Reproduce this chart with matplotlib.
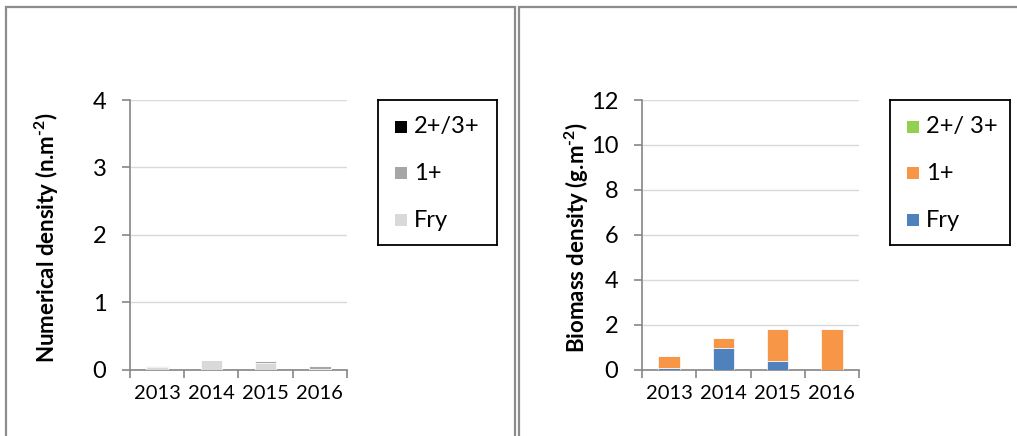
import matplotlib
matplotlib.use("Agg")
import matplotlib.pyplot as plt
from matplotlib.patches import Rectangle
from matplotlib.ticker import FixedLocator, NullFormatter
import numpy as np

plt.rcParams['font.family'] = ['Lato', 'DejaVu Sans']
plt.rcParams['mathtext.fontset'] = 'custom'
plt.rcParams['mathtext.rm'] = 'Lato:bold'
plt.rcParams['mathtext.bf'] = 'Lato:bold'
plt.rcParams['mathtext.default'] = 'bf'

years = ["2013", "2014", "2015", "2016"]

# Numerical density (n.m-2)
num_fry = [0.03, 0.14, 0.09, 0.01]
num_1p = [0.015, 0.00, 0.03, 0.04]
num_2p = [0.0, 0.0, 0.0, 0.0]
num_labels = ["2+/3+", "1+", "Fry"]

# Biomass density (g.m-2)
bio_fry = [0.07, 0.97, 0.40, 0.0]
bio_1p = [0.54, 0.45, 1.41, 1.79]
bio_2p = [0.0, 0.0, 0.0, 0.0]
bio_labels = ["2+/ 3+", "1+", "Fry"]

W, H = 1017, 436
fig = plt.figure(figsize=(W / 100, H / 100), dpi=100)

def px(x0, y0, x1, y1):
    return [x0 / W, 1 - y1 / H, (x1 - x0) / W, (y1 - y0) / H]

# panel frames
for (x0, x1) in [(6, 515), (519, 1030)]:
    fig.add_artist(Rectangle((x0 / W, -0.1), (x1 - x0) / W, 1.1 - 7 / H,
                             transform=fig.transFigure, fill=False,
                             edgecolor='#8c8c8c', linewidth=1.6))

def draw(ax, fry, p1, p2, colors, labels, ymax, ystep, ylabel, label_x, legend_box):
    x = np.arange(len(years))
    fry = np.array(fry); p1 = np.array(p1); p2 = np.array(p2)
    bw = 0.4
    ax.bar(x, fry, bw, color=colors[2], edgecolor='white', linewidth=0.5, zorder=3)
    ax.bar(x, p1, bw, bottom=fry, color=colors[1], edgecolor='white', linewidth=0.5, zorder=3)
    ax.bar(x, p2, bw, bottom=fry + p1, color=colors[0], edgecolor='white', linewidth=0.5, zorder=3)
    ax.set_xlim(-0.5, len(years) - 0.5)
    ax.set_ylim(0, ymax)
    ax.set_yticks(np.arange(0, ymax + 0.001, ystep))
    ax.yaxis.grid(True, color='#d9d9d9', linewidth=1.0)
    ax.set_axisbelow(True)
    for s in ['top', 'right']:
        ax.spines[s].set_visible(False)
    for s in ['left', 'bottom']:
        ax.spines[s].set_color('#868686')
        ax.spines[s].set_linewidth(1.2)
    ax.xaxis.set_major_locator(FixedLocator(np.arange(-0.5, len(years), 1.0)))
    ax.xaxis.set_major_formatter(NullFormatter())
    ax.xaxis.set_minor_locator(FixedLocator(x))
    ax.set_xticklabels(years, minor=True)
    ax.tick_params(axis='x', which='major', length=6, width=1.2, color='#868686', direction='out')
    ax.tick_params(axis='x', which='minor', length=0, pad=11, labelsize=14.5, labelcolor='black')
    ax.tick_params(axis='y', length=6, width=1.2, color='#868686', direction='out', pad=11,
                   labelsize=17, labelcolor='black')
    # ylabel
    fig.text(label_x / W, 1 - 238 / H, ylabel, rotation=90, ha='center', va='center',
             fontsize=16, fontweight='bold', color='black')
    # legend
    lx0, ly0, lx1, ly1 = legend_box
    lax = fig.add_axes(px(lx0, ly0, lx1, ly1))
    lax.set_xlim(0, lx1 - lx0)
    lax.set_ylim(ly1 - ly0, 0)
    lax.set_xticks([]); lax.set_yticks([])
    for s in lax.spines.values():
        s.set_color('black'); s.set_linewidth(1.3)
    for i, (lab, col) in enumerate(zip(labels, colors)):
        cy = 27 + 46.5 * i
        lax.add_patch(Rectangle((17, cy - 6), 12, 12, facecolor=col, edgecolor='none'))
        lax.text(36, cy, lab, ha='left', va='center', fontsize=17, color='black')

ax1 = fig.add_axes(px(130, 100, 347, 369.5))
draw(ax1, num_fry, num_1p, num_2p, ['#000000', '#a6a6a6', '#d9d9d9'], num_labels,
     4, 1, "Numerical density (n.m$^{\\text{-2}}$)", 47, (378, 100, 497, 245))

ax2 = fig.add_axes(px(642, 100, 859, 369.5))
draw(ax2, bio_fry, bio_1p, bio_2p, ['#92d050', '#f79646', '#4f81bd'], bio_labels,
     12, 2, "Biomass density (g.m$^{\\text{-2}}$)", 577, (890, 100, 1010, 245))

fig.savefig("out.png", dpi=100, facecolor='white')
